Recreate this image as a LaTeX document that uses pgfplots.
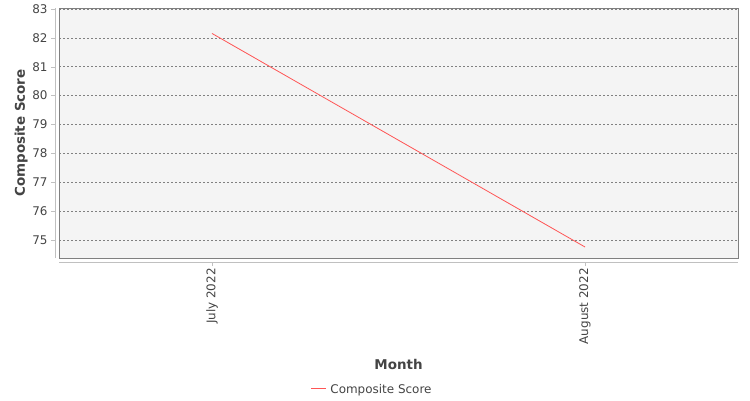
\documentclass[border=0pt]{standalone}
\usepackage{fontspec}
\setmainfont{DejaVu Sans}
\usepackage{pgfplots}
\pgfplotsset{compat=1.18}

\definecolor{txt}{HTML}{444444}
\definecolor{plotbg}{HTML}{F4F4F4}
\definecolor{frame}{HTML}{808080}
\definecolor{axln}{HTML}{C0C0C0}
\definecolor{gridc}{HTML}{808080}
\definecolor{linered}{HTML}{FF5555}

\begin{document}
\begin{tikzpicture}[x=1bp,y=1bp]
\path[use as bounding box] (0,0) rectangle (750,400);
\begin{axis}[
  at={(59bp,142bp)}, anchor=south west,
  scale only axis, width=679bp, height=250bp,
  xmin=-0.41, xmax=1.41,
  ymin=74.38, ymax=83.03,
  xtick={0,1}, xticklabels={July 2022,August 2022},
  ytick={75,...,83},
  axis background/.style={fill=plotbg},
  axis line style={frame, line width=0.8bp},
  ymajorgrids,
  major grid style={gridc, line width=0.5bp, dash pattern=on 2bp off 2bp},
  tick align=outside, major tick length=4bp,
  x tick style={axln, yshift=-4bp},
  y tick style={axln, xshift=-4bp},
  xtick pos=bottom, ytick pos=left,
  /pgf/number format/assume math mode=true,
  ticklabel style={font=\fontsize{12}{14}\selectfont, text=txt},
  yticklabel style={xshift=-4bp},
  xticklabel style={rotate=90, anchor=east, xshift=-4bp, inner sep=2bp},
  xlabel={Month}, ylabel={Composite Score},
  label style={font=\bfseries\fontsize{13.5}{16}\selectfont, text=txt},
  xlabel style={at={(axis description cs:0.5,-0.424)}, anchor=center},
  ylabel style={at={(axis description cs:-0.0559,0.5)}, anchor=center},
  legend style={at={(axis description cs:0.4602,-0.526)}, anchor=center,
    draw=white, fill=white, font=\fontsize{12}{14}\selectfont,
    inner sep=0pt},
  legend cell align=left,
  legend image code/.code={},
  clip=false,
]
\addplot[draw=linered, line width=0.8bp] coordinates {(0,82.15) (1,74.76)};
\addlegendentry{\textcolor{linered}{\rule[0.33em]{15bp}{1bp}}\hspace{4bp}\textcolor{txt}{Composite Score}}
\draw[axln, line width=1bp] ([xshift=-4bp]rel axis cs:0,0) -- ([xshift=-4bp]rel axis cs:0,1);
\draw[axln, line width=1bp] ([yshift=-4bp]rel axis cs:0,0) -- ([yshift=-4bp]rel axis cs:1,0);
\end{axis}
\end{tikzpicture}
\end{document}
